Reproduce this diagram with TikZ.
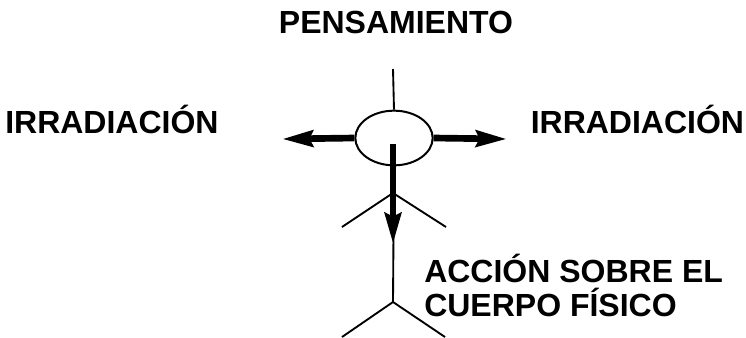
\documentclass[tikz,border=0pt]{standalone}
\usepackage{fontspec}
\setmainfont{Liberation Sans}
\usetikzlibrary{arrows.meta,shapes.geometric}
\begin{document}
\begin{tikzpicture}[x=0.75pt,y=0.75pt,yscale=-1,
    lbl/.style={font=\fontsize{24}{26}\selectfont\bfseries, inner sep=0pt},
    limb/.style={line width=1.4pt},
    ray/.style={line width=5pt, -{Stealth[length=23pt,width=12pt,inset=2.5pt]}}]
    \useasboundingbox (0,0) rectangle (746,337);

    % Head
    \node [draw, ellipse, line width=1.5pt, minimum width=58pt, minimum height=41pt, inner sep=0pt] (head) at (394,138) {};

    % Body points
    \coordinate (top) at (393,69);
    \coordinate (shoulder) at (393,193);
    \coordinate (hip) at (393,302);
    \coordinate (handL) at (342,227);
    \coordinate (handR) at (446,227);
    \coordinate (footL) at (342,337);
    \coordinate (footR) at (445,337);
    \coordinate (rayL) at (282,139);
    \coordinate (rayR) at (507,139);
    \coordinate (downS) at (393,144);
    \coordinate (downE) at (393,244);

    % Straight Lines
    \draw [limb] (top) -- (head.north);
    \draw [limb] (head.south) -- (hip);
    \draw [limb] (handL) -- (shoulder) -- (handR);
    \draw [limb] (footL) -- (hip) -- (footR);

    % Arrows
    \draw [ray] (head.west) -- (rayL);
    \draw [ray] (head.east) -- (rayR);
    \draw [ray] (downS) -- (downE);

    % Text Node
    \node [lbl, anchor=base] (pens) at (396,33) {PENSAMIENTO};
    % Text Node
    \node [lbl, anchor=base west] (irrL) at (5,133.5) {IRRADIACIÓN};
    % Text Node
    \node [lbl, anchor=base west] (irrR) at (530.5,133.5) {IRRADIACIÓN};
    % Text Node
    \node [lbl, anchor=base west] (accion) at (424,282) {ACCIÓN SOBRE EL};
    % Text Node
    \node [lbl, anchor=base west] (cuerpo) at (424,316) {CUERPO FÍSICO};

\end{tikzpicture}
\end{document}
